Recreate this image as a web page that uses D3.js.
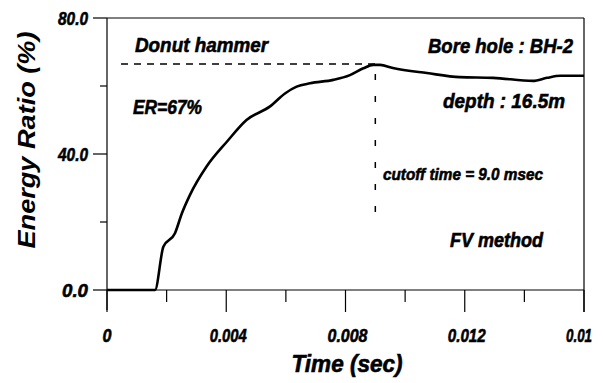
<!DOCTYPE html>
<html>
<head>
<meta charset="utf-8">
<script src="https://cdn.jsdelivr.net/npm/d3@7"></script>
<style>
  html, body { margin: 0; padding: 0; background: #fff; }
  svg text { font-family: "Liberation Sans", Arial, sans-serif; font-weight: bold; font-style: italic; fill: #000; }
  svg text.heavy { stroke: #000; stroke-width: 0.6; }
</style>
</head>
<body>
<div id="chart"></div>
<script>
// time (sec) and energy ratio (%)
const timeSec = [0, 0.0008, 0.00161, 0.00189, 0.00228, 0.00251, 0.00278, 0.00334, 0.00402,
  0.00468, 0.00547, 0.00597, 0.00636, 0.00681, 0.00759, 0.00815, 0.0086, 0.00893, 0.00916,
  0.00959, 0.01073, 0.01184, 0.01295, 0.01429, 0.01476, 0.0152, 0.016];
const ratioPct = [0, 0, 0, 12.7, 16.7, 22.5, 27.9, 36.3, 43.6,
  50.0, 54.0, 57.8, 59.8, 60.8, 61.8, 63.2, 65.2, 66.2, 66.2,
  65.3, 63.8, 62.6, 62.4, 61.5, 62.4, 63.0, 63.0];

const xMajor = [0, 0.004, 0.008, 0.012, 0.016];
const xMajorLabels = ["0", "0.004", "0.008", "0.012", "0.01"];
const xMinor = [0.002, 0.006, 0.01, 0.014];
const yMajor = [0, 40, 80];
const yMajorLabels = ["0.0", "40.0", "80.0"];
const yMinor = [20, 60];

const erValue = 66.5;     // dashed ER level
const erStart = 0.00047;
const cutoff = 0.009;     // cutoff time
const cutoffRange = [63.5, 21];

const W = 603, H = 383;
const svg = d3.select("#chart").append("svg")
  .attr("width", W).attr("height", H);

const x = d3.scaleLinear().domain([0, 0.016]).range([107, 584]);
const y = d3.scaleLinear().domain([0, 80]).range([290, 18]);

const frame = svg.append("g").attr("stroke", "#000").attr("stroke-width", 1.2).attr("fill", "none");
// top and right borders
frame.append("line").attr("x1", x(0)).attr("x2", x(0.016)).attr("y1", y(80)).attr("y2", y(80));
frame.append("line").attr("x1", x(0.016)).attr("x2", x(0.016)).attr("y1", y(80)).attr("y2", y(0) + 22);
// left axis and baseline
frame.append("line").attr("x1", x(0)).attr("x2", x(0)).attr("y1", y(80)).attr("y2", y(0) + 20);
frame.append("line").attr("x1", x(0)).attr("x2", x(0.016)).attr("y1", y(0)).attr("y2", y(0));

// x ticks
frame.selectAll(".xmaj").data(xMajor).enter().append("line")
  .attr("x1", d => x(d)).attr("x2", d => x(d)).attr("y1", y(0)).attr("y2", y(0) + 22);
frame.selectAll(".xmin").data(xMinor).enter().append("line")
  .attr("x1", d => x(d)).attr("x2", d => x(d)).attr("y1", y(0)).attr("y2", y(0) + 12);
// y ticks
frame.selectAll(".ymaj").data(yMajor).enter().append("line")
  .attr("x1", x(0) - 14).attr("x2", x(0)).attr("y1", d => y(d)).attr("y2", d => y(d));
frame.selectAll(".ymin").data(yMinor).enter().append("line")
  .attr("x1", x(0) - 7).attr("x2", x(0)).attr("y1", d => y(d)).attr("y2", d => y(d));

// tick labels
const xlw = [9, 37, 40, 38, 26];
const xlShift = [0, 2, 2, 2, -5];
svg.selectAll(".xl").data(xMajor).enter().append("text")
  .attr("class", "heavy")
  .attr("x", (d, i) => x(d) + xlShift[i]).attr("y", 342)
  .attr("text-anchor", "middle").attr("font-size", 19)
  .attr("textLength", (d, i) => xlw[i]).attr("lengthAdjust", "spacingAndGlyphs")
  .text((d, i) => xMajorLabels[i]);
const ylw = [26, 30, 30];
svg.selectAll(".yl").data(yMajor).enter().append("text")
  .attr("class", "heavy")
  .attr("x", 88).attr("y", d => y(d) + 7)
  .attr("text-anchor", "end").attr("font-size", 19)
  .attr("textLength", (d, i) => ylw[i]).attr("lengthAdjust", "spacingAndGlyphs")
  .text((d, i) => yMajorLabels[i]);

// axis titles
svg.append("text").attr("class", "heavy").attr("x", 347).attr("y", 372)
  .attr("text-anchor", "middle").attr("font-size", 23)
  .attr("textLength", 111).attr("lengthAdjust", "spacingAndGlyphs")
  .text("Time (sec)");
svg.append("text").attr("transform", "translate(35,140) rotate(-90)")
  .attr("text-anchor", "middle").attr("font-size", 23)
  .attr("textLength", 217).attr("lengthAdjust", "spacingAndGlyphs")
  .text("Energy Ratio (%)");

// dashed guides
svg.append("line")
  .attr("x1", x(erStart)).attr("x2", x(cutoff)).attr("y1", y(erValue)).attr("y2", y(erValue))
  .attr("stroke", "#000").attr("stroke-width", 1.5).attr("stroke-dasharray", "7,6");
svg.append("line")
  .attr("x1", x(cutoff)).attr("x2", x(cutoff)).attr("y1", y(cutoffRange[0])).attr("y2", y(cutoffRange[1]))
  .attr("stroke", "#000").attr("stroke-width", 1.5).attr("stroke-dasharray", "6,16");

// energy ratio curve
const line = d3.line()
  .x((d, i) => x(timeSec[i]))
  .y(d => y(d))
  .curve(d3.curveMonotoneX);
svg.append("path").datum(ratioPct)
  .attr("d", line)
  .attr("fill", "none").attr("stroke", "#000").attr("stroke-width", 2.6)
  .attr("stroke-linejoin", "round");

// annotations
const notes = [
  { t: "Donut hammer", x: 135, y: 52, w: 133, s: 21 },
  { t: "ER=67%", x: 133, y: 114, w: 69, s: 20 },
  { t: "Bore hole : BH-2", x: 428, y: 53, w: 145, s: 21 },
  { t: "depth : 16.5m", x: 443, y: 108, w: 122, s: 21 },
  { t: "cutoff time = 9.0 msec", x: 383, y: 180, w: 160, s: 17 },
  { t: "FV method", x: 450, y: 247, w: 93, s: 20 }
];
svg.selectAll(".note").data(notes).enter().append("text")
  .attr("class", "heavy")
  .attr("x", d => d.x).attr("y", d => d.y)
  .attr("font-size", d => d.s)
  .attr("textLength", d => d.w).attr("lengthAdjust", "spacingAndGlyphs")
  .text(d => d.t);
</script>
</body>
</html>
